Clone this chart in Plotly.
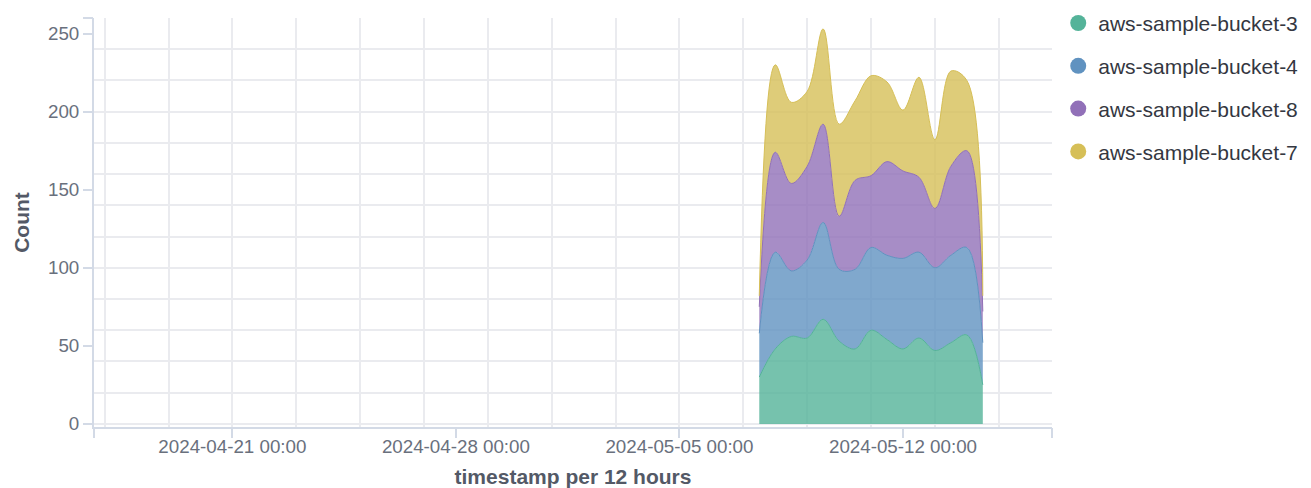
import plotly.graph_objects as go

timestamps = [
    "2024-05-07 12:00", "2024-05-08 00:00", "2024-05-08 12:00", "2024-05-09 00:00",
    "2024-05-09 12:00", "2024-05-10 00:00", "2024-05-10 12:00", "2024-05-11 00:00",
    "2024-05-11 12:00", "2024-05-12 00:00", "2024-05-12 12:00", "2024-05-13 00:00",
    "2024-05-13 12:00", "2024-05-14 00:00", "2024-05-14 12:00",
]
bucket_3 = [30, 48, 56, 55, 67, 53, 48, 60, 54, 48, 55, 47, 52, 57, 25]
bucket_4 = [28, 62, 42, 50, 62, 46, 51, 53, 54, 58, 55, 53, 56, 56, 27]
bucket_8 = [17, 64, 56, 60, 63, 34, 57, 46, 60, 56, 48, 38, 57, 62, 20]
bucket_7 = [7, 56, 52, 48, 61, 59, 51, 64, 51, 39, 64, 44, 61, 45, 10]

series_names = ["aws-sample-bucket-3", "aws-sample-bucket-4", "aws-sample-bucket-8", "aws-sample-bucket-7"]
series_values = [bucket_3, bucket_4, bucket_8, bucket_7]
colors = ["#54B399", "#6092C0", "#9170B8", "#D6BF57"]

x_tick_vals = ["2024-04-21 00:00", "2024-04-28 00:00", "2024-05-05 00:00", "2024-05-12 00:00"]
x_tick_text = ["2024-04-21 00:00", "2024-04-28 00:00", "2024-05-05 00:00", "2024-05-12 00:00"]
y_tick_vals = [0, 50, 100, 150, 200, 250]
y_tick_text = ["0", "50", "100", "150", "200", "250"]

x_range = ["2024-04-16 16:00", "2024-05-16 16:00"]
y_range = [-2, 260]

def rgba(hex_color, a):
    h = hex_color.lstrip("#")
    return "rgba(%d,%d,%d,%.2f)" % (int(h[0:2], 16), int(h[2:4], 16), int(h[4:6], 16), a)

FONT = "Liberation Sans, Arial, sans-serif"
AXIS_COLOR = "#D3DAE6"
GRID_COLOR = "#EAEBEF"

fig = go.Figure()
for name, vals, col in zip(series_names, series_values, colors):
    fig.add_trace(go.Scatter(
        x=timestamps, y=vals, name=name, stackgroup="one", mode="lines",
        line=dict(color=col, width=1, shape="spline", smoothing=1.0),
        fillcolor=rgba(col, 0.8), showlegend=False, hoverinfo="skip",
    ))
# legend proxies (circle symbols)
for i, (name, col) in enumerate(zip(series_names, colors)):
    fig.add_trace(go.Scatter(
        x=[None], y=[None], name=name, mode="markers",
        marker=dict(color=col, size=16, symbol="circle"),
        legendgroup="g%d" % i, showlegend=True,
    ))
# empty trace for the labelled overlay axes
fig.add_trace(go.Scatter(x=[], y=[], xaxis="x2", yaxis="y2", showlegend=False, hoverinfo="skip"))

fig.update_layout(
    width=1303, height=480,
    margin=dict(l=86, r=259, t=10, b=61, autoexpand=False),
    paper_bgcolor="white", plot_bgcolor="white",
    font=dict(family=FONT, color="#69707D"),
    showlegend=True,
    legend=dict(
        x=1.0065, y=1.037, xanchor="left", yanchor="top",
        traceorder="grouped", tracegroupgap=12.5,
        font=dict(family=FONT, size=21, color="#343741"),
        itemclick=False,
    ),
    xaxis=dict(
        type="date", range=x_range, showgrid=True, gridcolor=GRID_COLOR, gridwidth=1.5,
        tick0="2024-04-17 00:00", dtick=2 * 86400000, showticklabels=False, ticks="",
        showline=True, linecolor=AXIS_COLOR, linewidth=1.5, zeroline=False, fixedrange=True,
        automargin=False,
    ),
    yaxis=dict(
        range=y_range, showgrid=True, gridcolor=GRID_COLOR, gridwidth=1.5,
        tick0=0, dtick=20, showticklabels=False, ticks="",
        showline=True, linecolor=AXIS_COLOR, linewidth=1.5, zeroline=False, fixedrange=True,
        automargin=False,
    ),
    xaxis2=dict(
        type="date", range=x_range, overlaying="x", anchor="y2", side="bottom",
        tickmode="array", tickvals=x_tick_vals + x_range, ticktext=x_tick_text + ["", ""],
        ticks="outside", ticklen=10, tickwidth=1.5, tickcolor=AXIS_COLOR,
        showgrid=False, showline=False, zeroline=False, automargin=False,
        ticklabelstandoff=-8,
        tickfont=dict(family=FONT, size=18.75, color="#69707D"),
        title=dict(text="<b>timestamp per 12 hours</b>", standoff=16,
                   font=dict(family=FONT, size=21, color="#535966")),
    ),
    yaxis2=dict(
        range=y_range, overlaying="y", anchor="x2", side="left",
        tickmode="array", tickvals=y_tick_vals + [260], ticktext=y_tick_text + [""],
        ticks="outside", ticklen=10, tickwidth=1.5, tickcolor=AXIS_COLOR,
        showgrid=False, showline=False, zeroline=False, automargin=False,
        tickfont=dict(family=FONT, size=18.75, color="#69707D"),
        title=dict(text="<b>Count</b>", standoff=12,
                   font=dict(family=FONT, size=21, color="#535966")),
    ),
)

fig.write_html("out.html")
